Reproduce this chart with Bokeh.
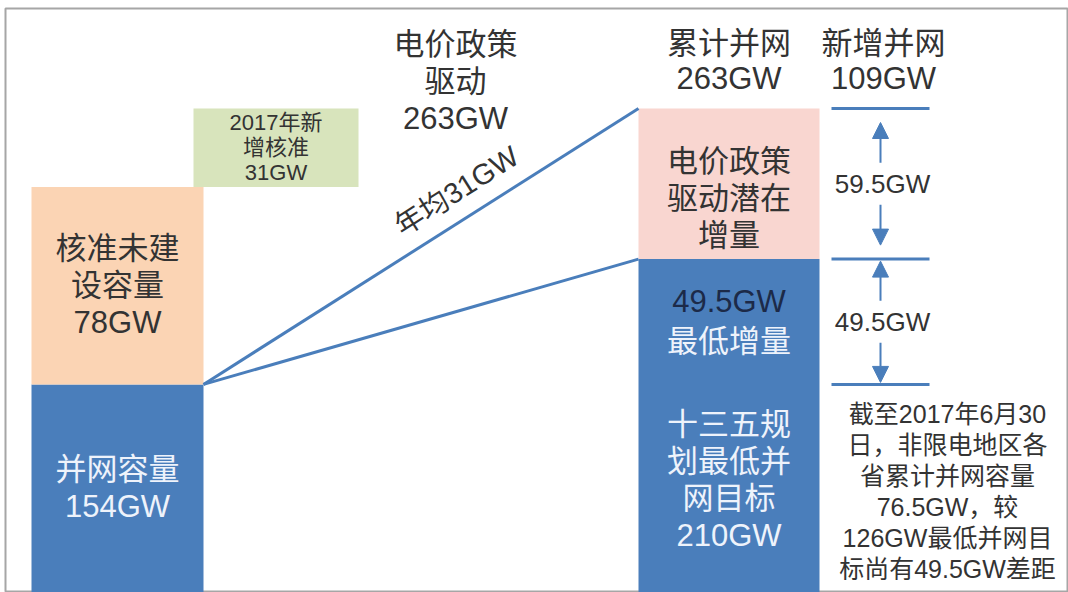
import math

from bokeh.plotting import figure
from bokeh.models import Range1d, Arrow, NormalHead
from bokeh.core.properties import value
from bokeh.embed import file_html
from bokeh.resources import INLINE

# ---- capacity figures (GW) ----
grid_connected = 154        # 并网容量
approved_unbuilt = 78       # 核准未建设容量
approved_2017 = 31          # 2017年新增核准
min_increment = 49.5        # 最低增量
policy_increment = 59.5     # 电价政策驱动潜在增量
plan_target = 210           # 十三五规划最低并网目标
annual_approval = 31        # 年均核准

cumulative = grid_connected + approved_unbuilt + approved_2017      # 累计并网 263
new_total = min_increment + policy_increment                        # 新增并网 109
min_level = grid_connected + min_increment                          # 最低增量上沿

# ---- styling ----
FONT = "Liberation Sans, Noto Sans CJK SC"
BLUE = "#4a7ebb"
ORANGE = "#fbd4b4"
GREEN = "#d8e4bc"
PINK = "#f9d6d0"
DARK = "#333333"
LIGHT = "#eef3fb"
NAVY = "#1c2a48"

W, H = 1068, 592
PAD_L, PAD_R, PAD_T, PAD_B = 5, 0, 8, 0
Y_START, Y_END = 71.8, 302.5
FRAME_H = H - PAD_T - PAD_B
K = FRAME_H / (Y_END - Y_START)      # pixels per GW


def off(px):
    """Convert a vertical pixel offset into GW."""
    return px / K


def y_at(py):
    """GW value shown at a given page row."""
    return Y_END - (py - PAD_T) / K


p = figure(
    width=W, height=H,
    x_range=Range1d(PAD_L, W - PAD_R), y_range=Range1d(Y_START, Y_END),
    x_axis_type=None, y_axis_type=None,
    toolbar_location=None, output_backend="svg",
    min_border_left=PAD_L, min_border_right=PAD_R,
    min_border_top=PAD_T, min_border_bottom=PAD_B,
    background_fill_color="white", border_fill_color="white",
)
p.outline_line_color = "#a6a6a6"
p.outline_line_width = 2

# column extents
L0, L1 = 31, 203          # existing capacity stack
G0, G1 = 193, 358         # 2017 approvals step
R0, R1 = 638, 819         # 2020 stack
B0, B1 = 831, 929         # bracket ticks
AX = 880                  # bracket arrows

# left stack
p.quad(left=[L0, L0], right=[L1, L1],
       bottom=[0, grid_connected],
       top=[grid_connected, grid_connected + approved_unbuilt],
       fill_color=[BLUE, ORANGE], line_color=None)
# 2017 approvals, stepped to the right
p.quad(left=[G0], right=[G1],
       bottom=[grid_connected + approved_unbuilt], top=[cumulative],
       fill_color=GREEN, line_color=None)
# right stack
p.quad(left=[R0, R0], right=[R1, R1],
       bottom=[0, min_level], top=[min_level, cumulative],
       fill_color=[BLUE, PINK], line_color=None)

# connecting lines
p.segment(x0=[L1, L1], y0=[grid_connected, grid_connected],
          x1=[R0, R0], y1=[cumulative, min_level],
          line_color=BLUE, line_width=3)

# bracket ticks
levels = [grid_connected, min_level, cumulative]
p.segment(x0=[B0] * 3, y0=levels, x1=[B1] * 3, y1=levels,
          line_color=BLUE, line_width=3)

# bracket arrows
for lo, hi, gap in [(min_level, cumulative, 14), (grid_connected, min_level, 2)]:
    mid = (lo + hi) / 2
    for start, end in [(mid + off(21), hi - off(gap)), (mid - off(21), lo + off(gap))]:
        p.add_layout(Arrow(
            end=NormalHead(size=16, fill_color=BLUE, line_color=BLUE, line_width=1),
            x_start=AX, y_start=start, x_end=AX, y_end=end,
            line_color=BLUE, line_width=2))


def put(lines, x, yc, size, color, spacing, angle=0.0):
    n = len(lines)
    ys = [yc - off((i - (n - 1) / 2) * spacing) for i in range(n)]
    p.text(x=[x] * n, y=ys, text=lines, angle=angle,
           text_font=value(FONT), text_font_size=value(f"{size}px"),
           text_color=color, text_align="center", text_baseline="middle")


def gw(v):
    return f"{v:g}GW"


# labels inside the left stack
put(["并网容量", gw(grid_connected)], (L0 + L1) / 2,
    (grid_connected + Y_START) / 2, 31, LIGHT, 37)
put(["核准未建", "设容量", gw(approved_unbuilt)], (L0 + L1) / 2,
    grid_connected + approved_unbuilt / 2, 31, DARK, 37)
put(["2017年新", "增核准", gw(approved_2017)], (G0 + G1) / 2,
    cumulative - approved_2017 / 2, 22, DARK, 25)

# labels inside the right stack
put(["电价政策", "驱动潜在", "增量"], (R0 + R1) / 2,
    (min_level + cumulative) / 2 - off(15), 31, DARK, 37)
put([gw(min_increment)], (R0 + R1) / 2,
    (grid_connected + min_level) / 2 + off(20), 31, NAVY, 40)
put(["最低增量"], (R0 + R1) / 2,
    (grid_connected + min_level) / 2 - off(20), 31, LIGHT, 40)
put(["十三五规", "划最低并", "网目标", gw(plan_target)], (R0 + R1) / 2,
    grid_connected - off(96), 31, LIGHT, 37)

# headings
put(["累计并网", gw(cumulative)], (R0 + R1) / 2,
    cumulative + off(47), 31, DARK, 35)
put(["新增并网", gw(new_total)], AX + 3,
    cumulative + off(47), 31, DARK, 35)
put(["电价政策", "驱动", gw(cumulative)], 455, y_at(81), 31, DARK, 37)

# annual approval along the upper line
tx = 456
line_y = grid_connected + (tx - L1) / (R0 - L1) * (cumulative - grid_connected)
slope = math.atan2((cumulative - grid_connected) * K, R0 - L1)
put([f"年均{gw(annual_approval)}"], tx, line_y + off(33), 29, DARK, 0, angle=slope)

# bracket values
put([gw(policy_increment)], AX + 2, (min_level + cumulative) / 2, 26, DARK, 0)
put([gw(min_increment)], AX + 2, (grid_connected + min_level) / 2, 26, DARK, 0)

# note under the brackets
put(["截至2017年6月30", "日，非限电地区各", "省累计并网容量",
     "76.5GW，较", "126GW最低并网目", f"标尚有{gw(min_increment)}差距"],
    947, grid_connected - off(30 + 2.5 * 31), 25, DARK, 31)

open("out.html", "w").write(file_html(p, INLINE))
